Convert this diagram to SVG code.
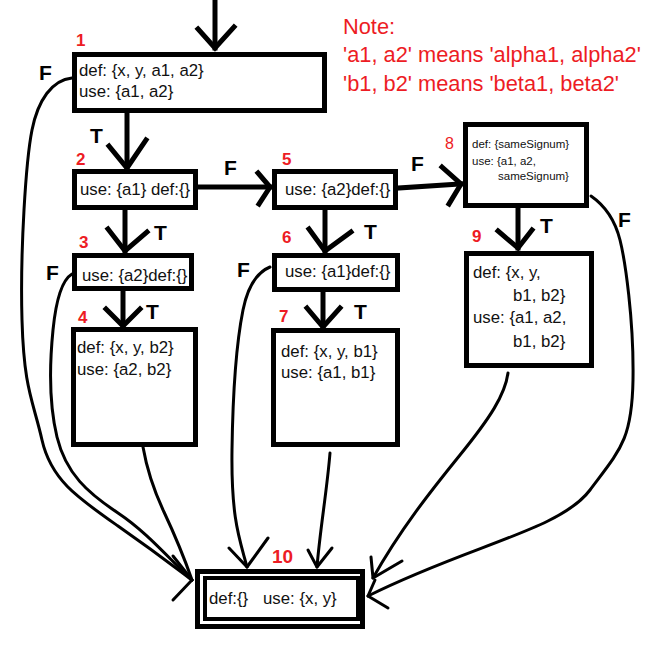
<svg xmlns="http://www.w3.org/2000/svg" width="672" height="650" viewBox="0 0 672 650">
<style>
.box{fill:#fff;stroke:#000;stroke-width:5}
.t{font-family:"Liberation Sans",Arial,sans-serif;font-size:16.8px;fill:#111}
.ts{font-family:"Liberation Sans",Arial,sans-serif;font-size:11.5px;fill:#111}
.num{font-family:"Liberation Sans",Arial,sans-serif;font-size:17px;font-weight:bold;fill:#ed1c24}
.lbl{font-family:"Liberation Sans",Arial,sans-serif;font-size:21px;font-weight:bold;fill:#000}
.note{font-family:"Liberation Sans",Arial,sans-serif;font-size:21.8px;fill:#ed1c24}
.e{fill:none;stroke:#000;stroke-width:5;stroke-linecap:square;stroke-linejoin:miter}
.c{fill:none;stroke:#000;stroke-width:3;stroke-linecap:round;stroke-linejoin:round}
</style>
<rect width="672" height="650" fill="#fff"/>
<g id="connectors">
  <!-- entry -->
  <path class="e" d="M215,0 V48"/>
  <polyline class="e" points="198,29 215,48 234,27"/>
  <!-- 1->2 -->
  <path class="e" d="M127,112 V168"/>
  <polyline class="e" points="109,146 127,168 146,140"/>
  <text class="lbl" x="90" y="143">T</text>
  <!-- 2->3 -->
  <path class="e" d="M125,210 V251"/>
  <polyline class="e" points="108,229 125,251 147,232"/>
  <text class="lbl" x="154" y="240">T</text>
  <!-- 3->4 -->
  <path class="e" d="M123,290 V326"/>
  <polyline class="e" points="106,309 123,326 140,309"/>
  <text class="lbl" x="146" y="319">T</text>
  <!-- 2->5 -->
  <path class="e" d="M198,187 H270"/>
  <polyline class="e" points="258,173 270,187 259,204"/>
  <text class="lbl" x="224" y="175">F</text>
  <!-- 5->6 -->
  <path class="e" d="M325,210 V251"/>
  <polyline class="e" points="309,229 325,251 351,232"/>
  <text class="lbl" x="364" y="239">T</text>
  <!-- 6->7 -->
  <path class="e" d="M323,292 V327"/>
  <polyline class="e" points="307,308 323,327 340,308"/>
  <text class="lbl" x="354" y="319">T</text>
  <!-- 5->8 -->
  <path class="e" d="M398,188 L461,184"/>
  <polyline class="e" points="442,167 461,184 449,204"/>
  <text class="lbl" x="411" y="171">F</text>
  <!-- 8->9 -->
  <path class="e" d="M518,208 V248"/>
  <polyline class="e" points="498,231 518,248 532,230"/>
  <text class="lbl" x="540" y="233">T</text>
  <!-- 1 -F-> 10 -->
  <path class="c" d="M72,78 C52,80 38,100 32,130 S20,250 22,320 S33,400 42,440 S78,498 118,526 S172,565 192,580"/>
  <text class="lbl" x="39" y="80">F</text>
  <!-- 3 -F-> 10 -->
  <path class="c" d="M72,274 C62,280 56,300 53,330 S48,400 57,437 S88,493 118,513 S170,560 192,580"/>
  <text class="lbl" x="46" y="280">F</text>
  <!-- 4 -> 10 -->
  <path class="c" d="M143,447 C147,470 156,495 164,512 S185,560 192,580"/>
  <polyline class="c" points="173,556 192,580 173,600"/>
  <!-- 6 -F-> 10 -->
  <path class="c" d="M270,267 C258,272 248,285 243,310 S233,380 232,450 S240,540 247,567"/>
  <polyline class="c" points="229,548 247,567 268,538"/>
  <text class="lbl" x="237" y="277">F</text>
  <!-- 7 -> 10 -->
  <path class="c" d="M330,453 C327,490 320,530 317,567"/>
  <polyline class="c" points="308,550 317,567 332,548"/>
  <!-- 9 -> 10 -->
  <path class="c" d="M508,373 C505,395 490,418 460,455 S400,530 373,578"/>
  <polyline class="c" points="371,557 373,578 402,561"/>
  <!-- 8 -F-> 10 -->
  <path class="c" d="M591,196 C604,205 615,220 620,240 S634,320 633,380 S620,450 590,490 S470,545 368,596"/>
  <polyline class="c" points="375,580 368,596 388,608"/>
  <text class="lbl" x="618" y="227">F</text>
</g>
<g id="node1">
  <rect class="box" x="74.5" y="54.5" width="250" height="56"/>
  <text class="num" x="76" y="46">1</text>
  <text class="t" x="79" y="76">def: {x, y, a1, a2}</text>
  <text class="t" x="79" y="97">use: {a1, a2}</text>
</g>
<g id="node2">
  <rect class="box" x="74.5" y="171.5" width="121" height="36"/>
  <text class="num" x="76" y="165">2</text>
  <text class="t" x="80" y="195">use: {a1} def:{}</text>
</g>
<g id="node3">
  <rect class="box" x="74.5" y="255.5" width="117" height="33"/>
  <text class="num" x="79" y="248">3</text>
  <text class="t" x="82" y="281">use: {a2}def:{}</text>
</g>
<g id="node4">
  <rect class="box" x="73.5" y="329.5" width="122" height="115"/>
  <text class="num" x="78" y="323">4</text>
  <text class="t" x="77" y="353">def: {x, y, b2}</text>
  <text class="t" x="77" y="375">use: {a2, b2}</text>
</g>
<g id="node5">
  <rect class="box" x="274.5" y="171.5" width="121" height="36"/>
  <text class="num" x="282" y="165">5</text>
  <text class="t" x="285" y="195">use: {a2}def:{}</text>
</g>
<g id="node6">
  <rect class="box" x="274.5" y="255.5" width="123" height="34"/>
  <text class="num" x="282" y="243">6</text>
  <text class="t" x="285" y="277">use: {a1}def:{}</text>
</g>
<g id="node7">
  <rect class="box" x="273.5" y="330.5" width="124" height="114"/>
  <text class="num" x="279" y="322">7</text>
  <text class="t" x="281" y="357">def: {x, y, b1}</text>
  <text class="t" x="281" y="378">use: {a1, b1}</text>
</g>
<g id="node8">
  <rect class="box" x="465.5" y="124.5" width="121" height="81"/>
  <text class="num" x="445" y="149" style="font-weight:normal;font-size:16px">8</text>
  <text class="ts" x="472" y="148">def: {sameSignum}</text>
  <text class="ts" x="472" y="165">use: {a1, a2,</text>
  <text class="ts" x="498" y="180">sameSignum}</text>
</g>
<g id="node9">
  <rect class="box" x="466.5" y="253.5" width="125" height="112"/>
  <text class="num" x="472" y="242">9</text>
  <text class="t" x="473" y="278">def: {x, y,</text>
  <text class="t" x="513" y="301">b1, b2}</text>
  <text class="t" x="473" y="323">use: {a1, a2,</text>
  <text class="t" x="513" y="347">b1, b2}</text>
</g>
<g id="node10">
  <rect class="box" x="197.5" y="571.5" width="165" height="55"/>
  <rect x="205" y="578" width="153" height="41" fill="#fff" stroke="#000" stroke-width="4"/>
  <text class="num" x="272" y="563" style="font-size:19px">10</text>
  <text class="t" x="209" y="604">def:{}</text>
  <text class="t" x="263" y="604">use: {x, y}</text>
</g>
<g id="note">
  <text class="note" x="343" y="34">Note:</text>
  <text class="note" x="343" y="62">'a1, a2' means 'alpha1, alpha2'</text>
  <text class="note" x="343" y="91">'b1, b2' means 'beta1, beta2'</text>
</g>
</svg>
